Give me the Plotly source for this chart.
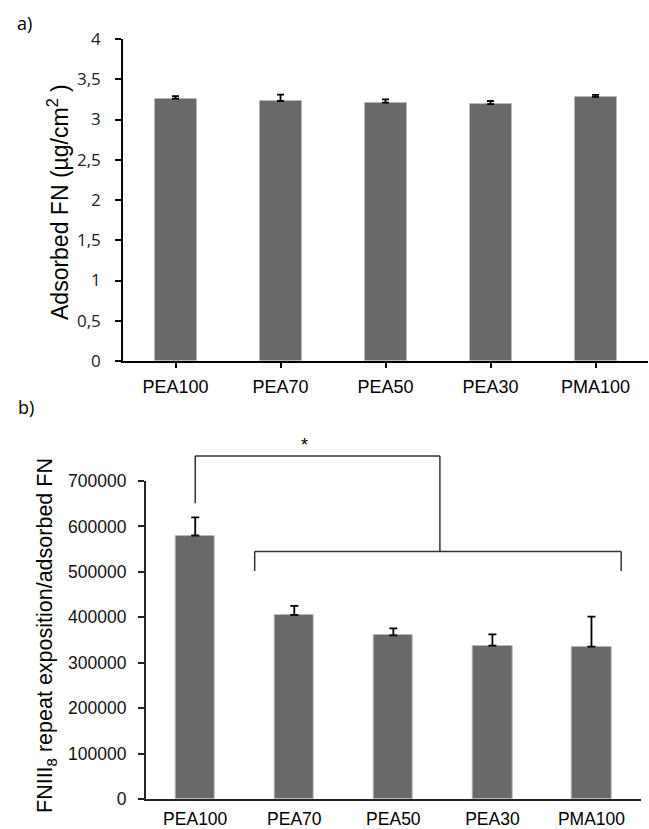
import plotly.graph_objects as go

# ---------------- data ----------------
categories = ["PEA100", "PEA70", "PEA50", "PEA30", "PMA100"]

adsorbed_fn = [3.26, 3.23, 3.21, 3.19, 3.28]
adsorbed_fn_err = [0.03, 0.08, 0.04, 0.04, 0.025]

fniii8_ratio = [580000, 405000, 360000, 337500, 335500]
fniii8_ratio_err = [40000, 20000, 15500, 25000, 66000]

a_tickvals = [0, 0.5, 1, 1.5, 2, 2.5, 3, 3.5, 4]
a_ticktext = ["0", "0,5", "1", "1,5", "2", "2,5", "3", "3,5", "4"]
b_tickvals = [0, 100000, 200000, 300000, 400000, 500000, 600000, 700000]
b_ticktext = ["0", "100000", "200000", "300000", "400000", "500000", "600000", "700000"]
b_max = 700000

# significance bracket (category index positions, data values)
upper_bracket_x = [0, 2.47]
upper_bracket_y = 755000
upper_bracket_drop = 651000
lower_bracket_x = [0.6, 4.3]
lower_bracket_y = 545000
lower_bracket_drop = 502000
star_x, star_y = 1.1, 780000

W, H = 649, 829
BAR = "#696969"
EDGE = "#b8b8b8"

fig = go.Figure()
fig.add_trace(go.Bar(
    x=categories, y=adsorbed_fn, width=0.4,
    marker=dict(color=BAR, line=dict(color=EDGE, width=1)),
    error_y=dict(type="data", array=adsorbed_fn_err, symmetric=False,
                 arrayminus=[0]*5, color="black", thickness=1.8, width=3.5),
    xaxis="x", yaxis="y", showlegend=False))
fig.add_trace(go.Bar(
    x=categories, y=fniii8_ratio, width=0.4,
    marker=dict(color=BAR, line=dict(color=EDGE, width=1)),
    error_y=dict(type="data", array=fniii8_ratio_err, symmetric=False,
                 arrayminus=[0]*5, color="black", thickness=1.8, width=4),
    xaxis="x2", yaxis="y2", showlegend=False))

axfont = dict(family="Liberation Sans, Arial", size=18, color="black")

fig.update_layout(
    width=W, height=H, autosize=False,
    margin=dict(l=0, r=0, t=0, b=0),
    paper_bgcolor="white", plot_bgcolor="white",
    bargap=0,
    xaxis=dict(domain=[123/W, 648/W], anchor="y", type="category", automargin=False,
               showline=True, linecolor="black", linewidth=1.5,
               ticks="outside", ticklen=5, tickcolor="black", tickwidth=1.5,
               tickfont=axfont, showgrid=False, zeroline=False,
               ticklabelstandoff=4),
    yaxis=dict(domain=[1-361/H, 1-39/H], anchor="x", range=[0, 4], automargin=False,
               tickvals=a_tickvals, ticktext=a_ticktext,
               showline=True, linecolor="black", linewidth=1.5,
               ticks="outside", ticklen=6, tickcolor="black", tickwidth=1.5,
               tickfont=dict(family="Open Sans", size=17, color="#222"),
               showgrid=False, zeroline=False, ticklabelstandoff=11),
    xaxis2=dict(domain=[145.7/W, 641/W], anchor="y2", type="category", automargin=False,
                showline=True, linecolor="#222", linewidth=1.5,
                ticks="", tickfont=dict(family="Liberation Sans, Arial", size=17.5, color="black"),
                showgrid=False, zeroline=False, ticklabelstandoff=3),
    yaxis2=dict(domain=[1-799/H, 1-481/H], anchor="x2", range=[0, b_max], automargin=False,
                tickvals=b_tickvals, ticktext=b_ticktext,
                showline=True, linecolor="#222", linewidth=1.5,
                ticks="outside", ticklen=6, tickcolor="#222", tickwidth=1.5,
                tickfont=dict(family="Liberation Sans, Arial", size=17.5, color="#111"),
                showgrid=False, zeroline=False, ticklabelstandoff=8),
)

def dom(v):
    return v / b_max

line = dict(color="#333", width=1.5)
shapes = [
    # upper bracket
    dict(type="line", xref="x2", yref="y2 domain", x0=upper_bracket_x[0], x1=upper_bracket_x[1],
         y0=dom(upper_bracket_y), y1=dom(upper_bracket_y), line=line),
    dict(type="line", xref="x2", yref="y2 domain", x0=upper_bracket_x[0], x1=upper_bracket_x[0],
         y0=dom(upper_bracket_y), y1=dom(upper_bracket_drop), line=line),
    dict(type="line", xref="x2", yref="y2 domain", x0=upper_bracket_x[1], x1=upper_bracket_x[1],
         y0=dom(upper_bracket_y), y1=dom(lower_bracket_y), line=line),
    # lower bracket
    dict(type="line", xref="x2", yref="y2 domain", x0=lower_bracket_x[0], x1=lower_bracket_x[1],
         y0=dom(lower_bracket_y), y1=dom(lower_bracket_y), line=line),
    dict(type="line", xref="x2", yref="y2 domain", x0=lower_bracket_x[0], x1=lower_bracket_x[0],
         y0=dom(lower_bracket_y), y1=dom(lower_bracket_drop), line=line),
    dict(type="line", xref="x2", yref="y2 domain", x0=lower_bracket_x[1], x1=lower_bracket_x[1],
         y0=dom(lower_bracket_y), y1=dom(lower_bracket_drop), line=line),
]
fig.update_layout(shapes=shapes)

annotations = [
    dict(text="a)", xref="paper", yref="paper", x=24/W, y=1-23/H, showarrow=False,
         xanchor="center", yanchor="middle",
         font=dict(family="Open Sans", size=18, color="black")),
    dict(text="b)", xref="paper", yref="paper", x=26/W, y=1-407/H, showarrow=False,
         xanchor="center", yanchor="middle",
         font=dict(family="Open Sans", size=18, color="black")),
    dict(text="Adsorbed FN (µg/cm<sup>2</sup> )", textangle=-90, xref="paper", yref="paper",
         x=58/W, y=1-202/H, showarrow=False, xanchor="center", yanchor="middle",
         font=dict(family="Liberation Sans, Arial", size=23, color="black")),
    dict(text="FNIII<sub>8</sub> repeat exposition/adsorbed FN", textangle=-90,
         xref="paper", yref="paper", x=46/W, y=1-636/H, showarrow=False,
         xanchor="center", yanchor="middle",
         font=dict(family="Liberation Sans, Arial", size=21.5, color="black")),
    dict(text="*", xref="x2", yref="y2 domain", x=star_x, y=dom(star_y), showarrow=False,
         xanchor="center", yanchor="middle",
         font=dict(family="Liberation Sans, Arial", size=18, color="black")),
]
fig.update_layout(annotations=annotations)

fig.write_html("out.html")
